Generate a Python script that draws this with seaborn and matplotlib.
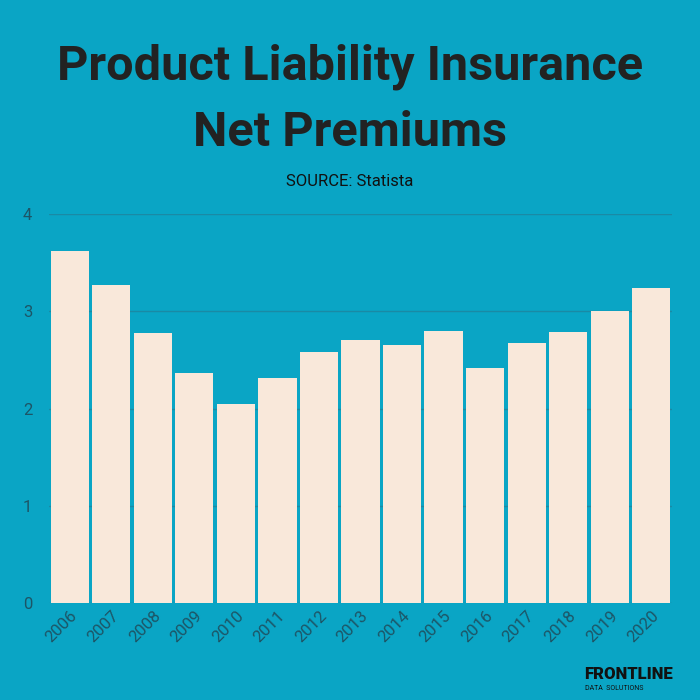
import seaborn as sns
import matplotlib.pyplot as plt
import pandas as pd

years = [str(y) for y in range(2006, 2021)]
premiums = [3.62, 3.27, 2.78, 2.37, 2.05, 2.32, 2.58, 2.71, 2.66, 2.80, 2.42, 2.68, 2.79, 3.01, 3.24]

bg = '#0aa5c5'
bar_color = '#f9e8da'

sns.set_style('white')
plt.rcParams['font.family'] = ['Roboto', 'DejaVu Sans']

df = pd.DataFrame({'year': years, 'value': premiums})

fig = plt.figure(figsize=(7, 7), dpi=100, facecolor=bg)
ax = fig.add_axes([0.07, 0.138, 0.89, 0.556])
ax.set_facecolor(bg)
sns.barplot(data=df, x='year', y='value', color=bar_color, width=0.92, saturation=1,
            linewidth=0, ax=ax, zorder=3)
ax.set_ylim(0, 4)
ax.set_yticks([0, 1, 2, 3, 4])
ax.grid(axis='y', color='#1a8aa5', linewidth=1, zorder=0)
for s in ax.spines.values():
    s.set_visible(False)
ax.set_xlabel('')
ax.set_ylabel('')
ax.tick_params(axis='y', colors='#1d5566', labelsize=12, length=0, pad=12)
ax.tick_params(axis='x', colors='#1d5566', labelsize=12, length=0)
plt.setp(ax.get_xticklabels(), rotation=45, ha='right', rotation_mode='anchor')
ax.set_xlim(-0.5, len(years) - 0.5)

fig.text(0.5, 0.905, 'Product Liability Insurance', ha='center', va='center',
         fontsize=35, fontweight='bold', color='#222222')
fig.text(0.5, 0.81, 'Net Premiums', ha='center', va='center',
         fontsize=35, fontweight='bold', color='#222222')
fig.text(0.5, 0.74, 'SOURCE: Statista', ha='center', va='center',
         fontsize=12, color='#111111')
fig.text(0.835, 0.037, 'FRONTLINE', ha='left', va='center', fontsize=12,
         fontweight='black', color='#111111')
fig.text(0.836, 0.016, 'DATA  SOLUTIONS', ha='left', va='center', fontsize=5,
         color='#111111')

fig.savefig('out.png', dpi=100, facecolor=bg)
